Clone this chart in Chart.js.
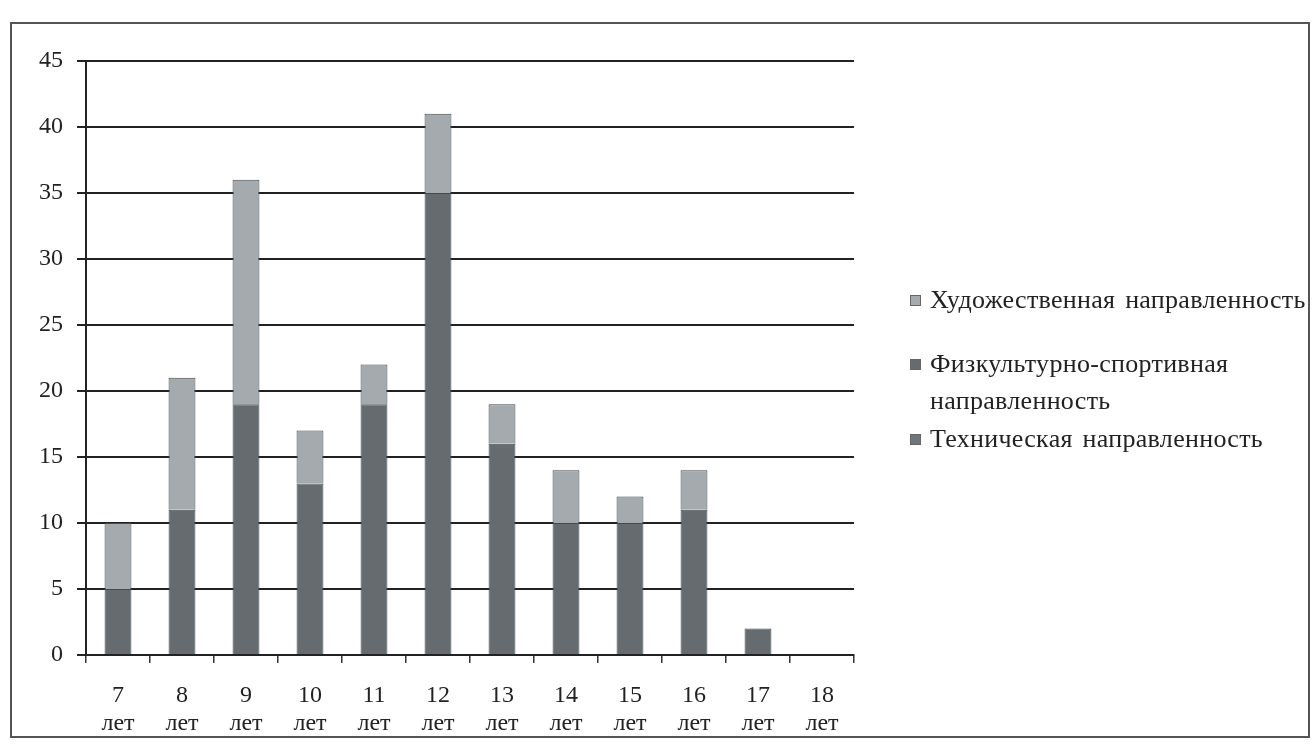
<!DOCTYPE html>
<html>
<head>
<meta charset="utf-8">
<script src="https://cdn.jsdelivr.net/npm/chart.js@4/dist/chart.umd.min.js"></script>
<style>
  body { margin: 0; background: #fff; }
  #wrap { position: relative; width: 1316px; height: 753px; }
  #frame { position: absolute; left: 10px; top: 22px; width: 1300px; height: 716px; border: 2px solid #555; box-sizing: border-box; }
  #legend { position: absolute; left: 0; top: 0; font-family: "Liberation Serif", serif; font-size: 26px; color: #222; }
  .item { position: absolute; left: 910px; padding-left: 20px; line-height: 37px; white-space: nowrap; letter-spacing: 0.3px; word-spacing: 3px; }
  .item span.box { position: absolute; left: 0; top: 14px; width: 9px; height: 9px; border: 1px solid #666; }
</style>
</head>
<body>
<div id="wrap">
  <div id="frame"></div>
  <canvas id="chart" width="1316" height="753"></canvas>
  <div id="legend"></div>
</div>
<script>
// ages along the x axis
const ages = ['7', '8', '9', '10', '11', '12', '13', '14', '15', '16', '17', '18'];
const yTicks = [0, 5, 10, 15, 20, 25, 30, 35, 40, 45];

// values (bottom to top)
const technical = [0, 0, 0, 0, 0, 0, 0, 0, 0, 0, 0, 0];
const sport = [5, 11, 19, 13, 19, 35, 16, 10, 10, 11, 2, 0];
const art = [5, 10, 17, 4, 3, 6, 3, 4, 2, 3, 0, 0];

const seriesNames = ['Техническая направленность', 'Физкультурно-спортивная направленность', 'Художественная направленность'];
const seriesColors = ['#70767a', '#656b6e', '#a4aaad'];

function makeSet(label, data, color) {
    return {
        label: label,
        data: data,
        backgroundColor: color,
        borderColor: '#45494b',
        borderWidth: 1,
        barPercentage: 0.42,
        categoryPercentage: 1
    };
}

const ctx = document.getElementById('chart').getContext('2d');
const chart = new Chart(ctx, {
    type: 'bar',
    data: {
        labels: ages.map(a => [a, 'лет']),
        datasets: [
            makeSet(seriesNames[0], technical, seriesColors[0]),
            makeSet(seriesNames[1], sport, seriesColors[1]),
            makeSet(seriesNames[2], art, seriesColors[2])
        ]
    },
    options: {
        responsive: false,
        animation: false,
        layout: { padding: { left: 14, right: 462, top: 61, bottom: 0 } },
        plugins: { legend: { display: false }, tooltip: { enabled: false } },
        scales: {
            x: {
                stacked: true,
                afterFit: s => { s.height = 98; },
                grid: { offset: true, drawOnChartArea: false, tickLength: 8, color: '#333', lineWidth: 1.5 },
                border: { color: '#222', width: 2 },
                ticks: { color: '#222', padding: 18, font: { family: 'Liberation Serif', size: 24, lineHeight: 1.2 } }
            },
            y: {
                stacked: true,
                min: 0,
                max: 45,
                afterFit: s => { s.width = 72; },
                afterBuildTicks: s => { s.ticks = yTicks.map(v => ({ value: v })); },
                grid: { color: '#222', lineWidth: 2, tickLength: 9 },
                border: { color: '#222', width: 2 },
                ticks: { color: '#222', padding: 14, font: { family: 'Liberation Serif', size: 24 } }
            }
        }
    }
});

// legend: top series first, like the original
const legend = document.getElementById('legend');
const legendLines = [
    ['Художественная направленность'],
    ['Физкультурно-спортивная', 'направленность'],
    ['Техническая направленность']
];
const legendTops = [281, 345, 420];
[2, 1, 0].forEach((idx, i) => {
    const item = document.createElement('div');
    item.className = 'item';
    item.style.top = legendTops[i] + 'px';
    item.innerHTML = '<span class="box" style="background:' + seriesColors[idx] + '"></span>' + legendLines[i].join('<br>');
    legend.appendChild(item);
});
</script>
</body>
</html>
